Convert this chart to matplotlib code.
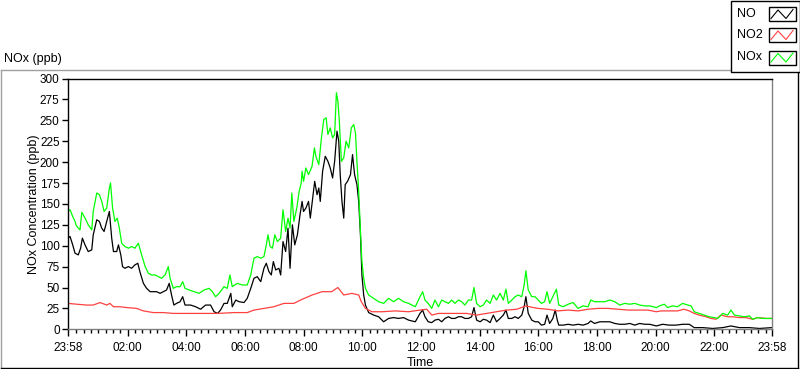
import matplotlib
matplotlib.use("Agg")
import matplotlib.pyplot as plt
from matplotlib.patches import Rectangle

plt.rcParams["font.family"] = ["Liberation Sans", "DejaVu Sans"]
plt.rcParams["font.size"] = 8.5

# hours after 23:58 -> ppb
no_hours = [0.00, 0.07, 0.16, 0.24, 0.35, 0.43, 0.49, 0.58, 0.69, 0.81, 0.86, 0.98, 1.07, 1.15,
            1.23, 1.32, 1.41, 1.49, 1.55, 1.66, 1.72, 1.80, 1.86, 1.94, 2.06, 2.17, 2.28, 2.38,
            2.45, 2.57, 2.68, 2.80, 2.91, 3.02, 3.14, 3.25, 3.36, 3.45, 3.53, 3.61, 3.70, 3.82,
            3.91, 3.99, 4.18, 4.35, 4.52, 4.69, 4.86, 4.98, 5.10, 5.20, 5.32, 5.43, 5.55, 5.60,
            5.72, 5.83, 6.00, 6.11, 6.23, 6.34, 6.45, 6.57, 6.68, 6.76, 6.85, 6.93, 7.00, 7.08,
            7.19, 7.25, 7.33, 7.42, 7.50, 7.57, 7.65, 7.73, 7.82, 7.91, 7.98, 8.03, 8.11, 8.20,
            8.26, 8.34, 8.41, 8.49, 8.55, 8.60, 8.68, 8.77, 8.86, 8.94, 9.02, 9.09, 9.17, 9.23,
            9.28, 9.34, 9.40, 9.45, 9.53, 9.63, 9.70, 9.77, 9.85, 9.91, 9.97, 10.02, 10.08,
            10.14, 10.25, 10.42, 10.59, 10.76, 10.93, 11.10, 11.27, 11.44, 11.61, 11.84, 12.00,
            12.09, 12.17, 12.28, 12.40, 12.51, 12.63, 12.74, 12.85, 12.97, 13.08, 13.19, 13.31,
            13.42, 13.53, 13.65, 13.76, 13.84, 13.93, 14.05, 14.16, 14.27, 14.39, 14.50, 14.61,
            14.73, 14.84, 14.93, 15.01, 15.13, 15.24, 15.35, 15.47, 15.55, 15.61, 15.69, 15.81,
            15.92, 16.03, 16.14, 16.25, 16.33, 16.42, 16.53, 16.61, 16.68, 16.73, 16.88, 17.05,
            17.22, 17.39, 17.56, 17.73, 17.82, 17.95, 18.13, 18.30, 18.47, 18.64, 18.81, 18.98,
            19.15, 19.32, 19.49, 19.66, 19.83, 20.06, 20.27, 20.50, 20.73, 20.95, 21.18, 21.35,
            21.64, 21.98, 22.32, 22.60, 22.89, 23.23, 23.57, 24.00]
no_ppb = [109, 111, 101, 91, 89, 97, 109, 101, 93, 95, 113, 131, 129, 121,
          117, 129, 141, 109, 93, 93, 101, 89, 75, 73, 75, 73, 77, 79,
          69, 55, 49, 45, 45, 45, 43, 45, 47, 55, 41, 29, 31, 33,
          39, 29, 29, 27, 24, 29, 29, 21, 19, 23, 31, 31, 43, 27,
          35, 33, 32, 37, 49, 61, 63, 57, 73, 79, 69, 65, 81, 71,
          73, 65, 105, 93, 121, 73, 125, 101, 113, 137, 153, 141, 145, 153,
          133, 157, 177, 161, 169, 153, 189, 207, 201, 193, 181, 201, 237, 225,
          185, 153, 133, 173, 177, 185, 209, 185, 173, 153, 113, 65, 41,
          29, 20, 17, 15, 9, 13, 14, 13, 14, 11, 9, 19,
          23, 15, 9, 8, 11, 12, 9, 13, 15, 13, 13, 15,
          15, 13, 13, 15, 26, 11, 9, 12, 11, 8, 17, 9,
          13, 17, 23, 13, 13, 15, 13, 17, 27, 39, 19, 11,
          9, 9, 5, 6, 17, 7, 13, 23, 11, 5, 5, 6,
          5, 6, 5, 7, 10, 7, 9, 9, 9, 7, 6, 6,
          7, 5, 7, 6, 6, 4, 6, 5, 5, 6, 6, 2,
          2, 1, 2, 4, 2, 2, 1, 2]

no2_hours = [0.00, 0.30, 0.64, 0.86, 1.09, 1.32, 1.43, 1.55, 1.77, 2.00, 2.34, 2.57, 2.91, 3.25,
             3.59, 3.99, 4.52, 5.10, 5.66, 6.11, 6.34, 6.68, 7.02, 7.36, 7.70, 7.99, 8.32, 8.66,
             8.99, 9.20, 9.40, 9.68, 9.91, 10.00, 10.14, 10.36, 10.70, 11.16, 11.61, 12.00, 12.23,
             12.40, 12.63, 12.91, 13.25, 13.59, 13.93, 14.27, 14.61, 14.95, 15.30, 15.61, 15.86,
             16.02, 16.36, 16.70, 17.05, 17.39, 17.73, 18.07, 18.41, 18.75, 19.09, 19.43, 19.77,
             20.05, 20.22, 20.50, 20.78, 21.00, 21.18, 21.35, 21.52, 21.75, 21.92, 22.09, 22.26,
             22.49, 22.66, 22.89, 23.11, 23.34, 23.51, 23.80, 24.00]
no2_ppb = [31, 30, 29, 29, 32, 29, 31, 27, 27, 26, 25, 22, 20, 20,
           19, 19, 19, 19, 20, 20, 23, 25, 27, 31, 31, 36, 41, 45,
           45, 50, 41, 43, 41, 33, 25, 21, 21, 22, 21, 23, 24,
           17, 19, 19, 19, 19, 17, 19, 21, 23, 24, 28, 26,
           25, 24, 22, 23, 22, 24, 25, 25, 24, 23, 23, 23,
           21, 22, 22, 22, 24, 22, 19, 17, 15, 13, 12, 17,
           15, 15, 14, 14, 12, 14, 13, 13]

nox_hours = [0.00, 0.07, 0.16, 0.24, 0.27, 0.35, 0.41, 0.47, 0.58, 0.69, 0.81, 0.86, 0.98, 1.07,
             1.15, 1.23, 1.32, 1.41, 1.45, 1.52, 1.60, 1.68, 1.75, 1.83, 1.94, 2.06, 2.17, 2.28,
             2.40, 2.51, 2.63, 2.74, 2.85, 2.97, 3.08, 3.19, 3.31, 3.42, 3.48, 3.59, 3.70, 3.82,
             3.91, 3.99, 4.13, 4.30, 4.47, 4.64, 4.81, 4.92, 5.03, 5.15, 5.32, 5.43, 5.52, 5.60,
             5.77, 5.94, 6.11, 6.23, 6.34, 6.45, 6.57, 6.68, 6.76, 6.82, 6.89, 6.97, 7.05, 7.14,
             7.25, 7.33, 7.42, 7.50, 7.57, 7.63, 7.70, 7.80, 7.88, 7.95, 7.98, 8.03, 8.11, 8.20,
             8.32, 8.40, 8.45, 8.55, 8.64, 8.72, 8.80, 8.86, 8.94, 9.02, 9.09, 9.15, 9.20, 9.25,
             9.32, 9.40, 9.48, 9.57, 9.66, 9.74, 9.80, 9.85, 9.91, 9.97, 10.02, 10.08, 10.14,
             10.25, 10.42, 10.59, 10.76, 10.93, 11.10, 11.27, 11.44, 11.61, 11.84, 12.00, 12.09,
             12.17, 12.28, 12.40, 12.51, 12.63, 12.74, 12.85, 12.97, 13.08, 13.19, 13.31, 13.42,
             13.53, 13.65, 13.76, 13.84, 13.93, 14.05, 14.16, 14.27, 14.39, 14.50, 14.61, 14.73,
             14.84, 14.93, 15.01, 15.13, 15.24, 15.35, 15.47, 15.55, 15.61, 15.69, 15.81, 15.92,
             16.03, 16.14, 16.25, 16.33, 16.42, 16.53, 16.65, 16.73, 16.88, 17.05, 17.22, 17.39,
             17.56, 17.73, 17.82, 17.95, 18.13, 18.30, 18.47, 18.64, 18.81, 18.98, 19.15, 19.32,
             19.49, 19.66, 19.83, 20.06, 20.16, 20.33, 20.44, 20.61, 20.78, 20.95, 21.13, 21.24,
             21.35, 21.52, 21.69, 21.86, 22.03, 22.15, 22.32, 22.49, 22.60, 22.72, 22.89, 23.06,
             23.23, 23.34, 23.51, 23.68, 23.86, 24.00]
nox_ppb = [141, 143, 135, 129, 125, 121, 119, 140, 133, 125, 119, 141, 163, 161,
           153, 141, 145, 169, 175, 145, 129, 133, 121, 103, 99, 97, 99, 97,
           103, 89, 75, 67, 65, 65, 63, 61, 65, 75, 61, 49, 51, 51,
           57, 49, 47, 45, 43, 47, 49, 45, 39, 43, 51, 49, 65, 51,
           55, 53, 53, 65, 85, 87, 85, 87, 101, 113, 99, 97, 113, 105,
           109, 143, 117, 133, 121, 163, 129, 145, 165, 175, 189, 177, 193, 185,
           195, 217, 207, 197, 229, 251, 253, 233, 241, 229, 233, 283, 273, 249,
           201, 205, 225, 217, 241, 245, 235, 201, 165, 117, 81, 61, 49,
           41, 37, 33, 31, 37, 33, 37, 33, 31, 27, 39, 45,
           35, 31, 25, 35, 27, 35, 33, 31, 35, 31, 35, 33,
           29, 35, 35, 50, 31, 27, 29, 35, 31, 41, 35, 43,
           35, 48, 31, 35, 39, 41, 39, 53, 70, 47, 39, 39,
           35, 31, 33, 45, 31, 39, 48, 29, 27, 30, 32, 25,
           28, 27, 35, 33, 33, 33, 35, 33, 29, 31, 30, 31,
           29, 28, 28, 26, 28, 30, 26, 28, 27, 31, 29, 28,
           21, 19, 17, 15, 14, 13, 19, 17, 23, 17, 16, 15,
           16, 12, 14, 13, 13, 13]

series_names = ["NO", "NO2", "NOx"]
series_colors = ["#000000", "#ff4040", "#00ff00"]

major_hours = [0] + [2.0333 + 2 * i for i in range(11)] + [24]
major_labels = ["23:58", "02:00", "04:00", "06:00", "08:00", "10:00", "12:00",
                "14:00", "16:00", "18:00", "20:00", "22:00", "23:58"]
y_ticks = list(range(0, 301, 25))

W, H = 800, 369
fig = plt.figure(figsize=(W / 100, H / 100), dpi=100)

# outer sunken frame, drawn in pixel coords
frame = fig.add_axes([0, 0, 1, 1])
frame.set_xlim(0, W)
frame.set_ylim(H, 0)
frame.axis("off")
frame.plot([0.5, 730], [69.5, 69.5], color="#a0a0a0", lw=1)
frame.plot([0.5, 0.5], [69.5, 367.5], color="#a0a0a0", lw=1)
frame.plot([0.5, 797.5], [367.5, 367.5], color="#000000", lw=1)
frame.plot([797.5, 797.5], [71, 367.5], color="#000000", lw=1)
frame.text(4, 59, "NOx (ppb)", ha="left", va="center", fontsize=9)

ax = fig.add_axes([68 / W, 1 - 329.3 / H, (772 - 68) / W, (329.3 - 78.5) / H])
data = [(no_hours, no_ppb), (no2_hours, no2_ppb), (nox_hours, nox_ppb)]
for (hx, vy), name, c in zip(data, series_names, series_colors):
    ax.plot(hx, vy, color=c, lw=0.9, label=name)

ax.set_xlim(0, 24)
ax.set_ylim(0, 300)
ax.set_yticks(y_ticks)
ax.set_xticks(major_hours)
ax.set_xticklabels(major_labels)
minor = []
t = 2.0333 - 0.25 * 8
while t < 24:
    if t > 0.1 and t < 23.9:
        minor.append(t)
    t += 0.25
ax.set_xticks(minor, minor=True)
ax.tick_params(axis="y", length=4, width=1, pad=2, labelsize=8.5)
ax.tick_params(axis="x", which="major", length=5, width=1, pad=4, labelsize=8.5)
ax.tick_params(axis="x", which="minor", length=3, width=1)
for s in ["top", "left"]:
    ax.spines[s].set_color("#000000")
for s in ["bottom", "right"]:
    ax.spines[s].set_color("#808080")
for s in ax.spines.values():
    s.set_linewidth(1)
ax.set_ylabel("NOx Concentration (ppb)", fontsize=9, labelpad=0)
ax.set_xlabel("Time", fontsize=9, labelpad=2)

# legend box in the top-right corner
leg = fig.add_axes([0, 0, 1, 1])
leg.set_xlim(0, W)
leg.set_ylim(H, 0)
leg.axis("off")
leg.add_patch(Rectangle((730.5, 0.5), 69, 71, facecolor="white", edgecolor="black", lw=1))
box_tops = [7, 28, 50.5]
for top, name, c in zip(box_tops, series_names, series_colors):
    leg.text(737, top + 7, name, ha="left", va="center", fontsize=9)
    leg.add_patch(Rectangle((768.5, top), 27, 14, facecolor="white", edgecolor="black", lw=1))
    leg.plot([771, 778, 786, 793], [top + 11.5, top + 3, top + 11.5, top + 2.5], color=c, lw=0.8)

fig.savefig("out.png", dpi=100)
